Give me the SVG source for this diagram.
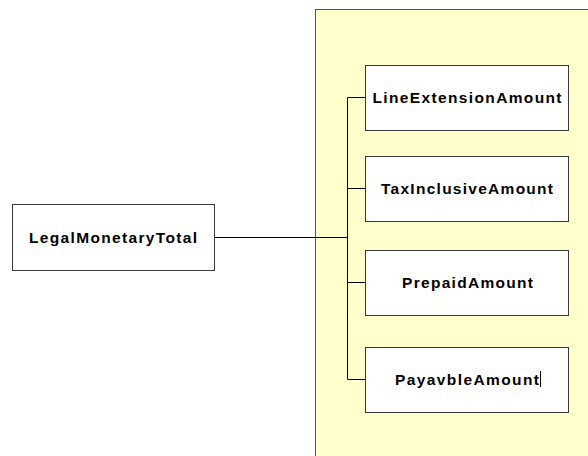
<svg xmlns="http://www.w3.org/2000/svg" width="588" height="456" viewBox="0 0 588 456">
<style>
.box{fill:#ffffff;stroke:#3a3a3a;stroke-width:1}
.lbl{font-family:"Liberation Sans",Arial,sans-serif;font-weight:bold;font-size:15.5px;fill:#000;text-anchor:middle}
.conn{fill:none;stroke:#000;stroke-width:1}
</style>
<rect x="0" y="0" width="588" height="456" fill="#ffffff"/>
<g id="panel">
<rect x="315.5" y="9.5" width="280" height="460" fill="#ffffcc" stroke="#555555" stroke-width="1"/>
</g>
<g id="connectors">
<path class="conn" d="M214 237.5H347.5M347.5 97.5V379.5M347.5 97.5H365M347.5 188.5H365M347.5 282.5H365M347.5 379.5H365"/>
</g>
<g id="node-legal">
<rect class="box" x="12.5" y="204.5" width="202" height="66"/>
<text class="lbl" x="113" y="242.5" textLength="168" lengthAdjust="spacing">LegalMonetaryTotal</text>
</g>
<g id="node-line">
<rect class="box" x="365.5" y="65.5" width="203" height="65"/>
<text class="lbl" x="467" y="102.5" textLength="189" lengthAdjust="spacing">LineExtensionAmount</text>
</g>
<g id="node-tax">
<rect class="box" x="365.5" y="156.5" width="203" height="65"/>
<text class="lbl" x="467" y="193.5" textLength="172" lengthAdjust="spacing">TaxInclusiveAmount</text>
</g>
<g id="node-prepaid">
<rect class="box" x="365.5" y="250.5" width="203" height="65"/>
<text class="lbl" x="467.5" y="287.5" textLength="131" lengthAdjust="spacing">PrepaidAmount</text>
</g>
<g id="node-payable">
<rect class="box" x="365.5" y="347.5" width="203" height="65"/>
<text class="lbl" x="467" y="384.5" textLength="144" lengthAdjust="spacing">PayavbleAmount</text>
<line x1="540.5" y1="371" x2="540.5" y2="387" stroke="#000" stroke-width="1"/>
</g>
</svg>
